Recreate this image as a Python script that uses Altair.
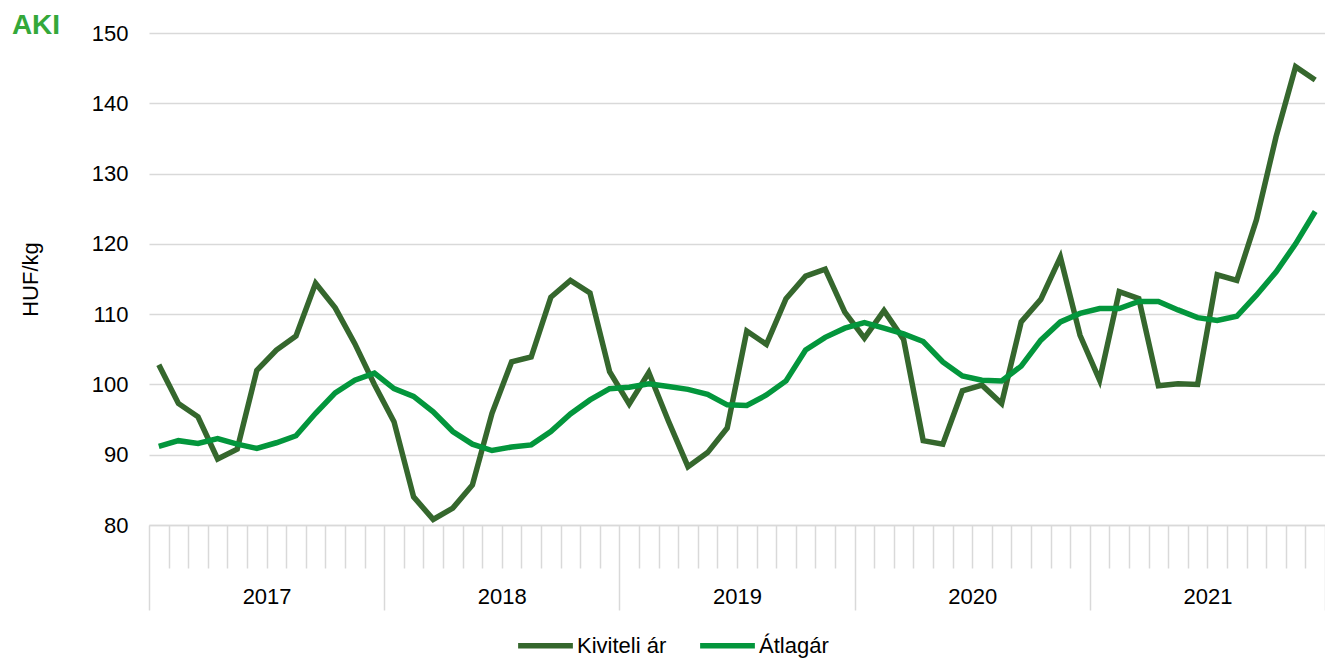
import altair as alt
import pandas as pd

years = ["2017", "2018", "2019", "2020", "2021"]
series_names = ["Kiviteli ár", "Átlagár"]
series_colors = ["#35672d", "#03963c"]

kiviteli = [102.8, 97.3, 95.4, 89.4, 90.8, 102.0, 104.9, 106.9, 114.4, 110.9, 105.8, 100.0,
            94.7, 84.0, 80.8, 82.4, 85.7, 95.9, 103.2, 103.9, 112.4, 114.8, 113.0, 101.8,
            97.2, 101.7, 94.8, 88.3, 90.3, 93.8, 107.6, 105.7, 112.2, 115.4, 116.4, 110.3,
            106.6, 110.5, 106.4, 92.0, 91.5, 99.1, 99.9, 97.3, 108.9, 112.1, 118.1, 107.0,
            100.6, 113.2, 112.2, 99.8, 100.1, 100.0, 115.6, 114.8, 123.4, 135.2, 145.2, 143.3]

atlagar = [91.2, 92.0, 91.6, 92.3, 91.5, 90.9, 91.7, 92.7, 95.9, 98.8, 100.6, 101.6,
           99.4, 98.3, 96.1, 93.3, 91.5, 90.6, 91.1, 91.4, 93.3, 95.8, 97.8, 99.4,
           99.6, 100.1, 99.7, 99.3, 98.6, 97.1, 97.0, 98.5, 100.5, 104.9, 106.7, 108.0,
           108.8, 108.0, 107.2, 106.1, 103.2, 101.2, 100.6, 100.5, 102.6, 106.3, 108.9, 110.1,
           110.8, 110.8, 111.8, 111.8, 110.6, 109.5, 109.1, 109.7, 112.7, 116.0, 120.0, 124.6]

rows = []
for name, vals in zip(series_names, [kiviteli, atlagar]):
    for i, v in enumerate(vals):
        rows.append({"pos": i + 0.5, "value": v, "series": name,
                     "year": years[i // 12], "month": i % 12 + 1})
df = pd.DataFrame(rows)

n_months = len(kiviteli)
boundaries = list(range(n_months + 1))

FONT = "Liberation Sans"
GRID = "#d9d9d9"

year_label_expr = ("datum.value % 12 == 6 ? ['" + "','".join(years) +
                   "'][floor(datum.value / 12)] : ''")

lines = alt.Chart(df).mark_line(strokeWidth=5.5, strokeJoin="miter", strokeCap="butt").encode(
    x=alt.X("pos:Q",
            scale=alt.Scale(domain=[0, n_months], nice=False, zero=False),
            axis=alt.Axis(values=boundaries, title=None, grid=False,
                          domainColor=GRID, domainWidth=1.5,
                          tickColor=GRID, tickWidth=1.5,
                          tickSize={"condition": {"test": "datum.value % 12 == 0", "value": 85},
                                    "value": 43},
                          labelExpr=year_label_expr,
                          labelFont=FONT, labelFontSize=22, labelColor="#000000",
                          labelPadding=18, labelOverlap=False, labelBound=False,
                          labelFlush=False)),
    y=alt.Y("value:Q",
            scale=alt.Scale(domain=[80, 150], nice=False, zero=False),
            axis=alt.Axis(values=[80, 90, 100, 110, 120, 130, 140, 150],
                          title="HUF/kg", titleFont=FONT, titleFontSize=22,
                          titleFontWeight="normal", titleColor="#000000",
                          titlePadding=49,
                          labelFont=FONT, labelFontSize=22, labelColor="#000000",
                          labelPadding=21, domain=False, ticks=False,
                          gridColor=GRID, gridWidth=1.5)),
    color=alt.Color("series:N",
                    scale=alt.Scale(domain=series_names, range=series_colors),
                    legend=alt.Legend(title=None, orient="none", direction="horizontal",
                                      legendX=366, legendY=582,
                                      symbolType="stroke", symbolStrokeWidth=5.5,
                                      symbolSize=3000, labelFont=FONT,
                                      labelFontSize=22, labelColor="#000000",
                                      columnPadding=22, labelOffset=1)),
    order=alt.Order("pos:Q"),
)

logo = alt.Chart(pd.DataFrame({"t": ["AKI"]})).mark_text(
    font=FONT, fontSize=28, fontWeight="bold",
    color="#34a83a", align="center", baseline="middle"
).encode(text="t:N", x=alt.value(-113), y=alt.value(-7))

chart = alt.layer(lines, logo).properties(
    width=1176, height=492,
    autosize=alt.AutoSizeParams(type="none"),
    padding={"left": 141, "top": 25, "right": 0, "bottom": 134},
).configure_view(stroke=None)

chart.save("out.html", embed_options={"renderer": "svg", "actions": False})
